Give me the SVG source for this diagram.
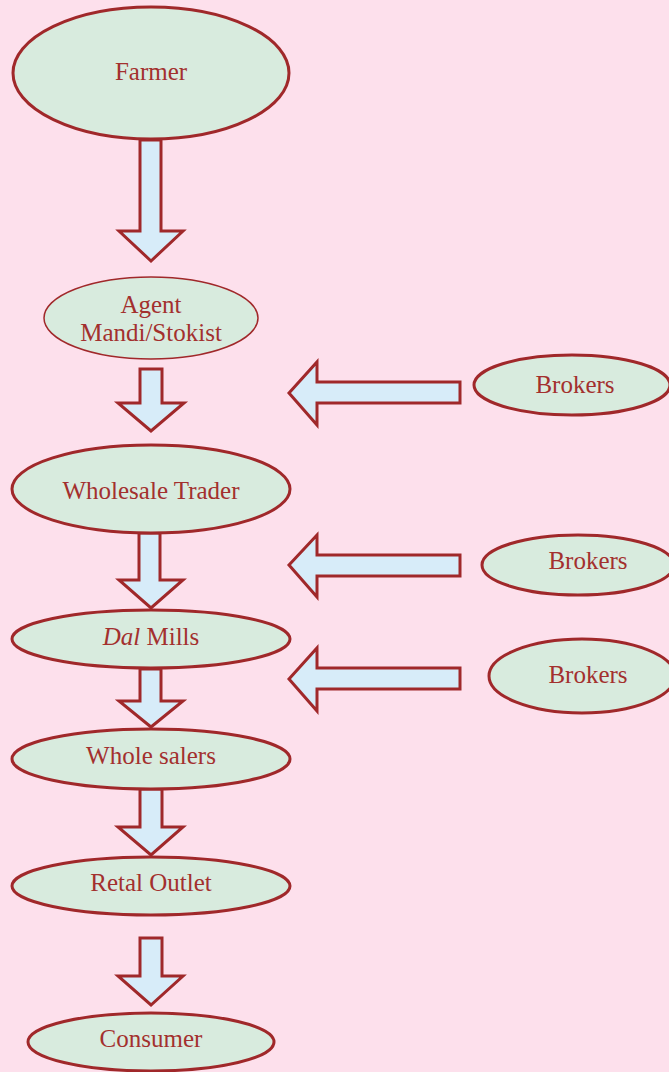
<svg xmlns="http://www.w3.org/2000/svg" width="669" height="1072" viewBox="0 0 669 1072">
  <style>
    .node { fill: #d8ebde; stroke: #a0282a; stroke-width: 3; }
    .thin { stroke-width: 1.5; }
    .arrow { fill: #d7ecf9; stroke: #a0282a; stroke-width: 3; stroke-linejoin: miter; }
    text { font-family: "Liberation Serif", "Times New Roman", serif; font-size: 25px; fill: #a3302e; text-anchor: middle; }
  </style>
  <rect width="669" height="1072" fill="#fde0ec"/>

  <!-- connectors: block arrows -->
  <g id="connectors">
    <!-- vertical flow -->
    <path class="arrow" d="M140,140 H161 V231 H183 L151,261 L119,231 H140 Z"/>
    <path class="arrow" d="M140,369 H162 V403 H184 L151,431 L118,403 H140 Z"/>
    <path class="arrow" d="M139,533 H160 V580 H183 L151,608 L119,580 H139 Z"/>
    <path class="arrow" d="M140,669 H161 V701 H183 L151,727 L119,701 H140 Z"/>
    <path class="arrow" d="M140,789 H162 V827 H183 L151,855 L118,827 H140 Z"/>
    <path class="arrow" d="M140,938 H162 V976 H183 L151,1005 L118,976 H140 Z"/>
    <!-- broker inputs -->
    <path class="arrow" d="M460,382 V403 H317 V425 L289,393 L317,362 V382 Z"/>
    <path class="arrow" d="M460,555 V576 H317 V597 L289,565 L317,535 V555 Z"/>
    <path class="arrow" d="M460,668 V689 H317 V711 L289,679 L317,648 V668 Z"/>
  </g>

  <g id="farmer">
    <ellipse class="node" cx="151" cy="73" rx="138" ry="66"/>
    <text x="151" y="80">Farmer</text>
  </g>
  <g id="agent">
    <ellipse class="node thin" cx="151" cy="318" rx="107" ry="41"/>
    <text x="151" y="313">Agent</text>
    <text x="151" y="341">Mandi/Stokist</text>
  </g>
  <g id="wholesale-trader">
    <ellipse class="node" cx="151" cy="489" rx="139" ry="44"/>
    <text x="151" y="499">Wholesale Trader</text>
  </g>
  <g id="dal-mills">
    <ellipse class="node" cx="151" cy="639" rx="139" ry="29"/>
    <text x="151" y="645"><tspan font-style="italic">Dal</tspan> Mills</text>
  </g>
  <g id="whole-salers">
    <ellipse class="node" cx="151" cy="759" rx="139" ry="30"/>
    <text x="151" y="764">Whole salers</text>
  </g>
  <g id="retail-outlet">
    <ellipse class="node" cx="151" cy="886" rx="139" ry="29"/>
    <text x="151" y="891">Retal Outlet</text>
  </g>
  <g id="consumer">
    <ellipse class="node" cx="151" cy="1042" rx="123" ry="29"/>
    <text x="151" y="1047">Consumer</text>
  </g>
  <g id="brokers-1">
    <ellipse class="node" cx="572" cy="385" rx="98" ry="30"/>
    <text x="575" y="393">Brokers</text>
  </g>
  <g id="brokers-2">
    <ellipse class="node" cx="578" cy="565" rx="96" ry="30"/>
    <text x="588" y="569">Brokers</text>
  </g>
  <g id="brokers-3">
    <ellipse class="node" cx="582" cy="676" rx="93" ry="37"/>
    <text x="588" y="683">Brokers</text>
  </g>
</svg>
